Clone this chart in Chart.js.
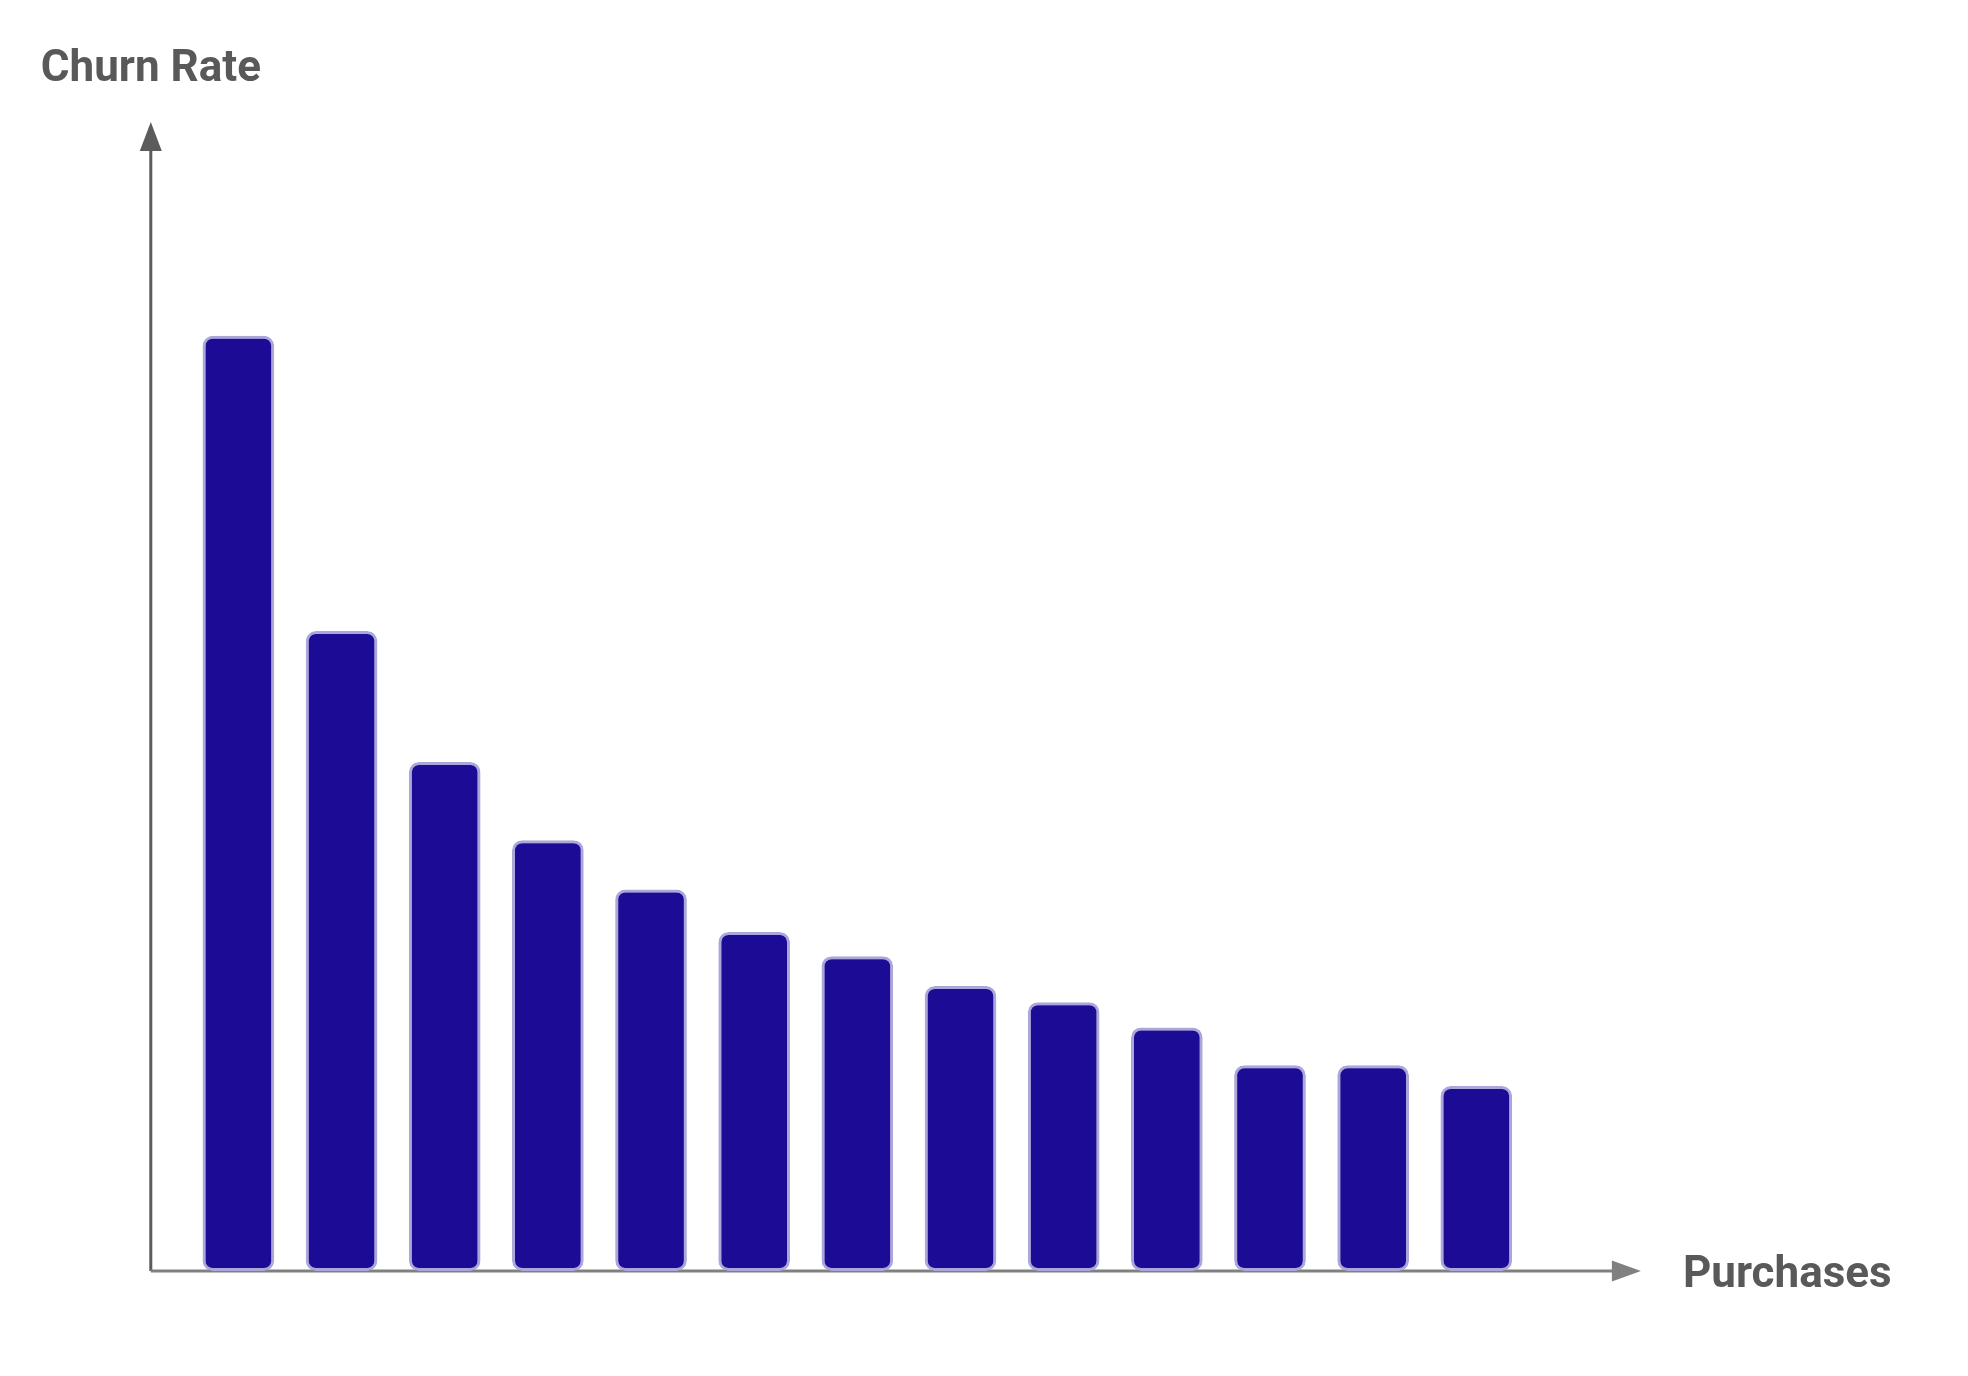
<!DOCTYPE html>
<html>
<head>
<meta charset="utf-8">
<script src="https://cdn.jsdelivr.net/npm/chart.js@4/dist/chart.umd.min.js"></script>
<style>
  html, body { margin: 0; padding: 0; background: #fff; }
  #wrap { width: 1968px; height: 1376px; position: relative; }
</style>
</head>
<body>
<div id="wrap"><canvas id="grafico"></canvas></div>
<script>
const purchases = ['1', '2', '3', '4', '5', '6', '7', '8', '9', '10', '11', '12', '13'];
const churnRate = [81.4, 55.7, 44.3, 37.5, 33.2, 29.5, 27.4, 24.8, 23.4, 21.2, 17.9, 17.9, 16.1];
const yTitle = 'Churn Rate';
const xTitle = 'Purchases';

const canvas = document.getElementById('grafico');

// axes with arrows drawn by hand, relative to the chart area
const arrowAxes = {
    id: 'arrowAxes',
    beforeDatasetsDraw(chart) {
        const { ctx, chartArea } = chart;
        const y0 = chart.scales.y.getPixelForValue(0);
        const x0 = chartArea.left - 36;
        const yTop = chartArea.top;
        const xEnd = chartArea.right + 113;
        ctx.save();
        ctx.lineWidth = 3;

        // vertical
        ctx.strokeStyle = '#5b5b5b';
        ctx.fillStyle = '#5b5b5b';
        ctx.beginPath();
        ctx.moveTo(x0, y0);
        ctx.lineTo(x0, yTop + 28);
        ctx.stroke();
        ctx.beginPath();
        ctx.moveTo(x0, yTop);
        ctx.lineTo(x0 - 11, yTop + 29);
        ctx.lineTo(x0 + 11, yTop + 29);
        ctx.closePath();
        ctx.fill();

        // horizontal
        ctx.strokeStyle = '#808080';
        ctx.fillStyle = '#808080';
        ctx.beginPath();
        ctx.moveTo(x0, y0);
        ctx.lineTo(xEnd - 28, y0);
        ctx.stroke();
        ctx.beginPath();
        ctx.moveTo(xEnd, y0);
        ctx.lineTo(xEnd - 29, y0 - 10.5);
        ctx.lineTo(xEnd - 29, y0 + 10.5);
        ctx.closePath();
        ctx.fill();

        // titles
        ctx.fillStyle = '#595959';
        ctx.font = 'bold 44px Roboto';
        ctx.textBaseline = 'alphabetic';
        ctx.textAlign = 'left';
        ctx.fillText(yTitle, x0 - 110, yTop - 41);
        ctx.fillText(xTitle, xEnd + 42, y0 + 16);
        ctx.restore();
    }
};

const config = {
    type: 'bar',
    data: {
        labels: purchases,
        datasets: [{
            label: 'Churn Rate',
            data: churnRate,
            backgroundColor: '#1c0b94',
            borderColor: '#aaa7da',
            borderWidth: 3,
            borderRadius: 10,
            borderSkipped: false,
            categoryPercentage: 1,
            barPercentage: 0.695
        }]
    },
    options: {
        responsive: true,
        maintainAspectRatio: false,
        animation: false,
        devicePixelRatio: 1,
        layout: {
            padding: { left: 186.8, right: 440.1, top: 122, bottom: 105 }
        },
        plugins: {
            legend: { display: false },
            tooltip: { enabled: false }
        },
        scales: {
            x: { display: false },
            y: { display: false, min: 0, max: 100 }
        }
    },
    plugins: [arrowAxes]
};

const myChart = new Chart(canvas, config);
</script>
</body>
</html>
